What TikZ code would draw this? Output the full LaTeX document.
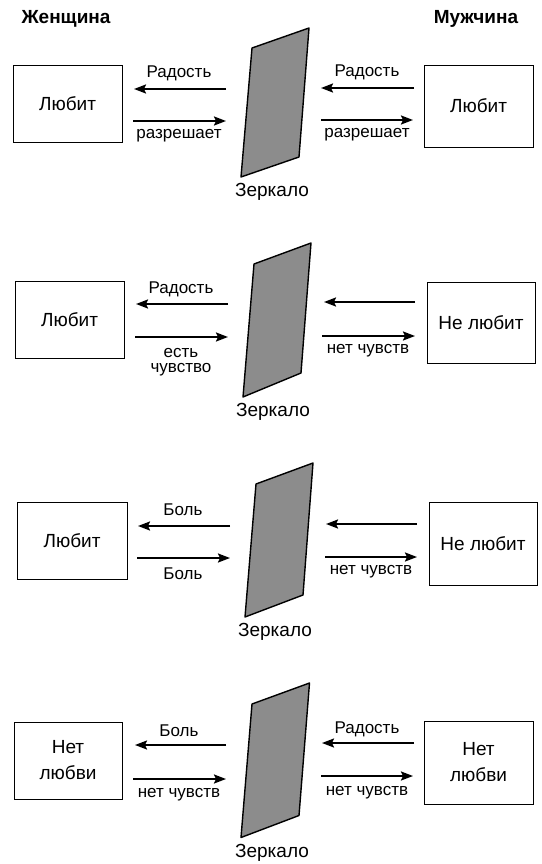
\documentclass[tikz,border=0pt]{standalone}
\usepackage{fontspec}
\setmainfont{Liberation Sans}
\usetikzlibrary{arrows.meta}

\begin{document}
\begin{tikzpicture}[x=1pt,y=1pt,yscale=-1,
  box/.style={draw,line width=0.9pt,inner sep=0pt,align=center,font=\fontsize{19}{26}\selectfont},
  lbl/.style={inner sep=0pt,align=center,font=\fontsize{17}{15.5}\selectfont},
  mlbl/.style={inner sep=0pt,font=\fontsize{19}{20}\selectfont},
  head/.style={inner sep=0pt,font=\fontsize{19}{20}\selectfont\bfseries},
  arr/.style={line width=2pt,-{Stealth[length=12pt,width=9pt,inset=2pt]}},
  mirror/.style={draw,line width=1.4pt,fill={rgb,255:red,140;green,140;blue,140},line join=round}]
\useasboundingbox (0,0) rectangle (541,864);

% Text Node
\node [head] (zhen) at (66,19) {Женщина};
% Text Node
\node [head] (muzh) at (476,19) {Мужчина};

%%% Panel 1
\node [box,minimum width=109pt,minimum height=77pt] (w1) at (67.5,103.5) {Любит};
\node [box,minimum width=109pt,minimum height=82pt] (m1) at (478.5,106) {Любит};
%Mirror
\draw [mirror] (252,48) -- (309,28) -- (299,157) -- (241,177) -- cycle;
\node [mlbl] (z1) at (272,192) {Зеркало};
%Straight Lines
\coordinate (p1a) at (226,89);  \coordinate (p1b) at (134,89);
\coordinate (p1c) at (133,121); \coordinate (p1d) at (226,121);
\coordinate (p1e) at (414,88);  \coordinate (p1f) at (321,88);
\coordinate (p1g) at (321,120); \coordinate (p1h) at (413,120);
\draw [arr] (p1a) -- (p1b);
\draw [arr] (p1c) -- (p1d);
\draw [arr] (p1e) -- (p1f);
\draw [arr] (p1g) -- (p1h);
% Text Node
\node [lbl] (t1a) at (179,73) {Радость};
\node [lbl] (t1b) at (179,136) {разрешает};
\node [lbl] (t1c) at (367,72) {Радость};
\node [lbl] (t1d) at (367,135) {разрешает};

%%% Panel 2
\node [box,minimum width=109pt,minimum height=77pt] (w2) at (69.5,319.5) {Любит};
\node [box,minimum width=108pt,minimum height=81pt] (m2) at (481,322.5) {Не любит};
%Mirror
\draw [mirror] (254,264) -- (311,243) -- (301,373) -- (243,397) -- cycle;
\node [mlbl] (z2) at (273,412) {Зеркало};
%Straight Lines
\coordinate (p2a) at (228,304); \coordinate (p2b) at (136,304);
\coordinate (p2c) at (135,337); \coordinate (p2d) at (228,337);
\coordinate (p2e) at (415,302); \coordinate (p2f) at (324,302);
\coordinate (p2g) at (322,336); \coordinate (p2h) at (415,336);
\draw [arr] (p2a) -- (p2b);
\draw [arr] (p2c) -- (p2d);
\draw [arr] (p2e) -- (p2f);
\draw [arr] (p2g) -- (p2h);
% Text Node
\node [lbl] (t2a) at (181,289) {Радость};
\node [lbl] (t2b) at (181,362) {есть\\чувство};
\node [lbl] (t2d) at (368,351) {нет чувств};

%%% Panel 3
\node [box,minimum width=110pt,minimum height=77pt] (w3) at (72,540.5) {Любит};
\node [box,minimum width=108pt,minimum height=83pt] (m3) at (483,543.5) {Не любит};
%Mirror
\draw [mirror] (256,484) -- (313,463) -- (303,595) -- (245,617) -- cycle;
\node [mlbl] (z3) at (275,632) {Зеркало};
%Straight Lines
\coordinate (p3a) at (230,526); \coordinate (p3b) at (138,526);
\coordinate (p3c) at (137,558); \coordinate (p3d) at (230,558);
\coordinate (p3e) at (417,524); \coordinate (p3f) at (326,524);
\coordinate (p3g) at (325,557); \coordinate (p3h) at (417,557);
\draw [arr] (p3a) -- (p3b);
\draw [arr] (p3c) -- (p3d);
\draw [arr] (p3e) -- (p3f);
\draw [arr] (p3g) -- (p3h);
% Text Node
\node [lbl] (t3a) at (183,510) {Боль};
\node [lbl] (t3b) at (183,574) {Боль};
\node [lbl] (t3d) at (371,572) {нет чувств};

%%% Panel 4
\node [box,minimum width=108pt,minimum height=77pt] (w4) at (68,760.5) {Нет\\любви};
\node [box,minimum width=109pt,minimum height=83pt] (m4) at (478.5,762.5) {Нет\\любви};
%Mirror
\draw [mirror] (252,704) -- (309.5,683) -- (299,815.5) -- (241,837.5) -- cycle;
\node [mlbl] (z4) at (272,853) {Зеркало};
%Straight Lines
\coordinate (p4a) at (226,745); \coordinate (p4b) at (135,745);
\coordinate (p4c) at (133,779); \coordinate (p4d) at (226,779);
\coordinate (p4e) at (414,743); \coordinate (p4f) at (322,743);
\coordinate (p4g) at (321,776); \coordinate (p4h) at (413,776);
\draw [arr] (p4a) -- (p4b);
\draw [arr] (p4c) -- (p4d);
\draw [arr] (p4e) -- (p4f);
\draw [arr] (p4g) -- (p4h);
% Text Node
\node [lbl] (t4a) at (179,731) {Боль};
\node [lbl] (t4b) at (179,795) {нет чувств};
\node [lbl] (t4c) at (367,729) {Радость};
\node [lbl] (t4d) at (367,793) {нет чувств};

\end{tikzpicture}
\end{document}
